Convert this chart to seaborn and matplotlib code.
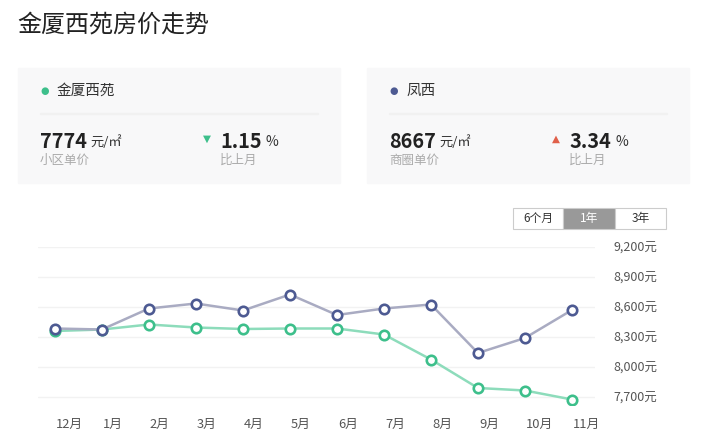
import numpy as np
import pandas as pd
import matplotlib
matplotlib.use('Agg')
import matplotlib.pyplot as plt
import matplotlib.transforms as mtransforms
from matplotlib.patches import Rectangle
import seaborn as sns

sns.set_style('white')
plt.rcParams['font.family'] = ['Noto Sans CJK SC', 'DejaVu Sans']

# data
months = ['12月', '1月', '2月', '3月', '4月', '5月', '6月', '7月', '8月', '9月', '10月', '11月']
jinxia = [8360, 8375, 8425, 8395, 8380, 8385, 8385, 8325, 8075, 7790, 7765, 7675]
fengxi = [8385, 8375, 8585, 8635, 8565, 8725, 8520, 8585, 8625, 8140, 8290, 8570]
yticks = [7700, 8000, 8300, 8600, 8900, 9200]
range_buttons = ['6个月', '1年', '3年']

green = '#3dbf8b'
green_line = '#8ddcbb'
blue = '#4d5a92'
blue_line = '#a9abc2'

W, H = 723, 445
fig = plt.figure(figsize=(W / 100, H / 100), dpi=100)


def fx(x):
    return x / W


def fy(y):
    return 1 - y / H


# title
fig.text(fx(17), fy(24), '金厦西苑房价走势', fontsize=17.3, color='#222222', va='center')

# summary cards
cards = [
    dict(x0=18, name='金厦西苑', color=green, price='7774', label='小区单价',
         pct='1.15', up=False),
    dict(x0=367, name='凤西', color=blue, price='8667', label='商圈单价',
         pct='3.34', up=True),
]
for c in cards:
    x0 = c['x0']
    fig.patches.append(Rectangle((fx(x0), fy(183)), fx(322), 115 / H,
                                 transform=fig.transFigure, color='#f8f8f9',
                                 zorder=0))
    fig.patches.append(Rectangle((fx(x0 + 22), fy(114)), fx(278), 1 / H,
                                 transform=fig.transFigure, color='#f1f1f1',
                                 zorder=1))
    fig.text(fx(x0 + 27), fy(91), '●', fontsize=7, color=c['color'],
             va='center', ha='center', family=['DejaVu Sans'])
    fig.text(fx(x0 + 39), fy(91), c['name'], fontsize=10.5, color='#333333',
             va='center')
    fig.text(fx(x0 + 22), fy(141), c['price'], fontsize=14.3, fontweight='bold',
             color='#222222', va='center')
    fig.text(fx(x0 + 72), fy(142), '元/㎡', fontsize=9.5, color='#333333',
             va='center')
    fig.text(fx(x0 + 22), fy(160), c['label'], fontsize=9, color='#aaaaaa',
             va='center')
    tri = '▲' if c['up'] else '▼'
    tri_color = '#e0604a' if c['up'] else green
    fig.text(fx(x0 + 189), fy(139), tri, fontsize=7.5, color=tri_color,
             va='center', ha='center', family=['DejaVu Sans'])
    fig.text(fx(x0 + 202), fy(141), c['pct'], fontsize=14.3, fontweight='bold',
             color='#222222', va='center')
    fig.text(fx(x0 + 248), fy(142), '%', fontsize=10, color='#333333',
             va='center')
    fig.text(fx(x0 + 202), fy(160), '比上月', fontsize=9, color='#aaaaaa',
             va='center')

# range selector
bx = [513, 563, 615, 666]
for i, lab in enumerate(range_buttons):
    active = lab == '1年'
    fig.patches.append(Rectangle((fx(bx[i]), fy(229)), fx(bx[i + 1] - bx[i]),
                                 21 / H, transform=fig.transFigure,
                                 facecolor='#999999' if active else 'white',
                                 edgecolor='#cccccc', lw=0.8, zorder=2))
    fig.text(fx((bx[i] + bx[i + 1]) / 2), fy(218.5), lab, fontsize=8.5,
             color='white' if active else '#333333', ha='center', va='center',
             zorder=3)

# line chart
df = pd.DataFrame({'idx': np.arange(len(months)), 'month': months,
                   'jinxia': jinxia, 'fengxi': fengxi})
ax = fig.add_axes([fx(38), fy(405), fx(595 - 38), (405 - 247) / H])
sns.lineplot(data=df, x='idx', y='jinxia', ax=ax, color=green_line, lw=1.8,
             marker='o', markersize=6.8, markerfacecolor='white',
             markeredgecolor=green, markeredgewidth=1.9, zorder=3)
sns.lineplot(data=df, x='idx', y='fengxi', ax=ax, color=blue_line, lw=1.8,
             marker='o', markersize=6.8, markerfacecolor='white',
             markeredgecolor=blue, markeredgewidth=1.9, zorder=4)
ax.set_xlim(-0.36, 11.49)
ax.set_ylim(7620, 9200)
ax.set_yticks(yticks)
ax.set_yticklabels(['{:,}元'.format(v) for v in yticks])
ax.yaxis.tick_right()
ax.set_xticks(df['idx'])
ax.set_xticklabels(months)
ax.set_xlabel('')
ax.set_ylabel('')
ax.grid(axis='y', color='#f2f2f2', lw=1)
ax.tick_params(axis='y', length=0, pad=13, labelsize=9, labelcolor='#555555')
ax.tick_params(axis='x', length=0, pad=9, labelsize=9.3, labelcolor='#555555')
offset = mtransforms.ScaledTranslation(0.01, 0, fig.dpi_scale_trans)
for lbl in ax.get_xticklabels():
    lbl.set_horizontalalignment('left')
    lbl.set_transform(lbl.get_transform() + offset)
for s in ax.spines.values():
    s.set_visible(False)

fig.savefig('out.png', dpi=100)
